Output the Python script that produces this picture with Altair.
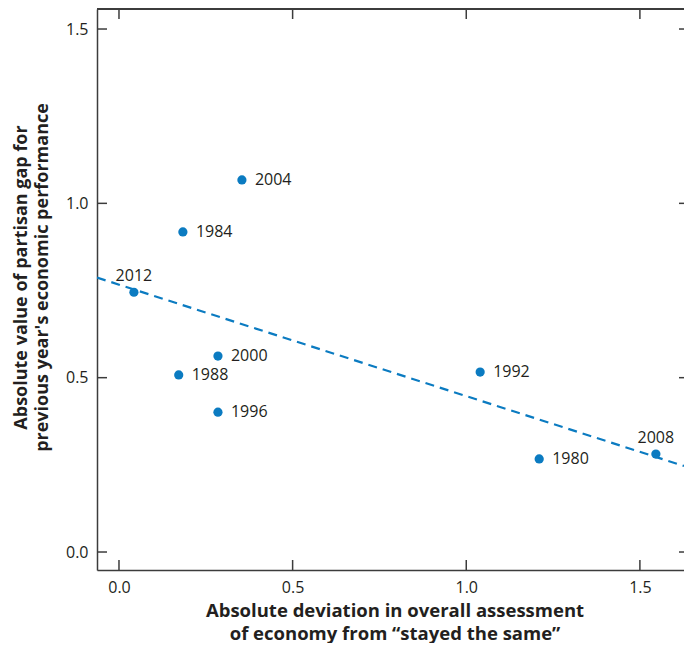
import altair as alt
import pandas as pd

# ---- data ----
years = ["1980", "1984", "1988", "1992", "1996", "2000", "2004", "2008", "2012"]
x_vals = [1.210, 0.184, 0.172, 1.040, 0.285, 0.285, 0.354, 1.546, 0.043]
y_vals = [0.267, 0.918, 0.508, 0.516, 0.401, 0.562, 1.067, 0.281, 0.745]
label_pos = ["right", "right", "right", "right", "right", "right", "right", "above", "above"]

x_ticks = [0.0, 0.5, 1.0, 1.5]
y_ticks = [0.0, 0.5, 1.0, 1.5]

x_domain = [-0.0633, 1.627]
y_domain = [-0.0516, 1.5574]

x_title = ["Absolute deviation in overall assessment", "of economy from \u201cstayed the same\u201d"]
y_title = ["Absolute value of partisan gap for", "previous year's economic performance"]

# ---- styling ----
W, H = 587, 561
BLUE = "#0b7bc1"
TXT = "#231f20"
AXC = "#3c3c3c"
FONT = "Open Sans"

df = pd.DataFrame({"x": x_vals, "y": y_vals, "year": years, "pos": label_pos})
xt = pd.DataFrame({"x": x_ticks})
yt = pd.DataFrame({"y": y_ticks})

xscale = alt.Scale(domain=x_domain, nice=False, zero=False)
yscale = alt.Scale(domain=y_domain, nice=False, zero=False)

x_axis = alt.Axis(
    values=x_ticks, format=".1f", ticks=False, grid=False,
    domainColor=AXC, domainWidth=1.5,
    labelFont=FONT, labelFontSize=16, labelColor=TXT, labelPadding=9,
    title=x_title, titleFont=FONT, titleFontSize=18.5, titleFontWeight="bold",
    titleColor=TXT, titleBaseline="top", titleY=31, titleLineHeight=23,
    titleX=(587 + 8) / 2,
)
y_axis = alt.Axis(
    values=y_ticks, format=".1f", ticks=False, grid=False,
    domainColor=AXC, domainWidth=1.5,
    labelFont=FONT, labelFontSize=16, labelColor=TXT, labelPadding=9,
    title=y_title, titleFont=FONT, titleFontSize=18, titleFontWeight="bold",
    titleColor=TXT, titleAngle=270, titleAlign="center", titleBaseline="top",
    titleX=-85, titleY=268, titleLineHeight=21,
)


def X():
    return alt.X("x:Q", scale=xscale, axis=x_axis)


def Y():
    return alt.Y("y:Q", scale=yscale, axis=y_axis)


base = alt.Chart(df)

reg = base.transform_regression("x", "y", extent=x_domain).mark_line(
    color=BLUE, strokeDash=[9, 6], strokeWidth=2.2, clip=True
).encode(x=X(), y=Y())

pts = base.mark_circle(size=85, opacity=1, color=BLUE).encode(x=X(), y=Y())

lab_r = base.transform_filter("datum.pos == 'right'").mark_text(
    align="left", baseline="middle", dx=13, font=FONT, fontSize=16, color=TXT
).encode(x=X(), y=Y(), text="year:N")

lab_a = base.transform_filter("datum.pos == 'above'").mark_text(
    align="center", baseline="alphabetic", dy=-11, font=FONT, fontSize=16, color=TXT
).encode(x=X(), y=Y(), text="year:N")

tick_style = dict(color=AXC, strokeWidth=1.5)
t_bottom = alt.Chart(xt).mark_rule(**tick_style).encode(x=X(), y=alt.value(H), y2=alt.value(H - 10))
t_top = alt.Chart(xt).mark_rule(**tick_style).encode(x=X(), y=alt.value(0), y2=alt.value(10))
t_left = alt.Chart(yt).mark_rule(**tick_style).encode(y=Y(), x=alt.value(0), x2=alt.value(10))
t_right = alt.Chart(yt).mark_rule(**tick_style).encode(y=Y(), x=alt.value(W), x2=alt.value(W - 5))
frame_top = alt.Chart(xt).mark_rule(color=AXC, strokeWidth=1.5).encode(
    x=alt.value(0), x2=alt.value(W), y=alt.value(0)
)

chart = alt.layer(
    reg, pts, lab_r, lab_a, t_bottom, t_top, t_left, t_right, frame_top
).properties(
    width=W, height=H,
    autosize=alt.AutoSizeParams(type="none"),
    padding={"left": 89, "top": 1, "right": 0, "bottom": 73},
).configure_view(stroke=None).configure(background="white")

chart.save("out.html", embed_options={"renderer": "svg", "actions": False})
